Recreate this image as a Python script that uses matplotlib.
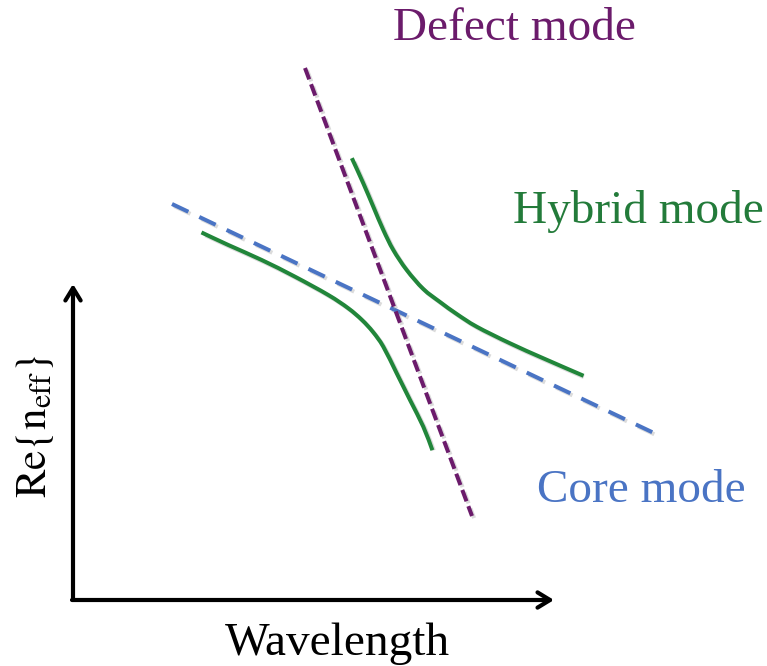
import matplotlib
matplotlib.use("Agg")
import matplotlib.pyplot as plt
import matplotlib.patheffects as pe
import matplotlib.transforms as mtrans
from matplotlib.path import Path
from matplotlib.patches import PathPatch
import numpy as np

plt.rcParams['font.family'] = ['Liberation Serif', 'DejaVu Serif']
plt.rcParams['mathtext.fontset'] = 'stix'

# Schematic curves (figure pixel coordinates, y downward)
defect_x = [305, 472]
defect_y = [68, 516]
core_x = [172, 656]
core_y = [204, 434]
hyb_up_x = [352.7, 363.3, 373.3, 383.3, 393.3, 406.7, 423.3, 440, 456.7, 476.7, 510, 543.3, 581.7]
hyb_up_y = [160, 183.3, 206.7, 230, 250, 270, 289, 302, 314, 326.7, 343.3, 358.3, 375]
hyb_lo_x = [203.3, 228.3, 261.7, 295, 328.3, 348.3, 362, 373, 383.3, 396.7, 410, 423.3, 431.7]
hyb_lo_y = [233.3, 245, 260, 276.7, 295, 308.3, 320, 332, 346.7, 373.3, 400, 426.7, 448.3]

labels = {"defect": "Defect mode", "hybrid": "Hybrid mode", "core": "Core mode",
          "x": "Wavelength", "y": r"$\mathrm{Re}\{\mathrm{n}_{\mathrm{eff}}\}$"}

purple = "#6b1b6b"
blue = "#4a74c4"
green = "#21863a"
green_txt = "#237b3a"


def smooth_path(xs, ys):
    """Catmull-Rom through the given points, drawn as cubic Bezier segments."""
    p = np.column_stack([xs, ys]).astype(float)
    verts = [p[0]]
    codes = [Path.MOVETO]
    n = len(p)
    for i in range(n - 1):
        p0 = p[i - 1] if i > 0 else p[i]
        p1 = p[i]
        p2 = p[i + 1]
        p3 = p[i + 2] if i + 2 < n else p[i + 1]
        c1 = p1 + (p2 - p0) / 6.0
        c2 = p2 - (p3 - p1) / 6.0
        verts += [c1, c2, p2]
        codes += [Path.CURVE4] * 3
    return Path(verts, codes)


fig = plt.figure(figsize=(7.67, 6.66), dpi=100)
ax = fig.add_axes([0, 0, 1, 1])
ax.set_xlim(0, 767)
ax.set_ylim(666, 0)
ax.axis("off")

shadow = [pe.SimpleLineShadow(offset=(1.5, -1.5), shadow_color="0.6", alpha=0.35), pe.Normal()]

ax.plot(core_x, core_y, color=blue, lw=2.9, dashes=(4.5, 3.0), solid_capstyle="butt",
        path_effects=shadow, zorder=3)
ax.plot(defect_x, defect_y, color=purple, lw=2.9, dashes=(3.0, 1.3), path_effects=shadow, zorder=4)

shift = mtrans.ScaledTranslation(1.5 / 72, -1.5 / 72, fig.dpi_scale_trans)
for xs, ys in [(hyb_up_x, hyb_up_y), (hyb_lo_x, hyb_lo_y)]:
    pth = smooth_path(xs, ys)
    sh = PathPatch(pth, facecolor="none", edgecolor="0.6", lw=2.9, alpha=0.35, zorder=1.5)
    sh.set_transform(ax.transData + shift)
    ax.add_patch(sh)
    ax.add_patch(PathPatch(pth, facecolor="none", edgecolor=green, lw=2.9, zorder=2,
                           capstyle="projecting"))

# axes arrows
arrow_kw = dict(arrowstyle="->,head_length=0.9,head_width=0.55", color="black", lw=3.0,
                shrinkA=0, shrinkB=0)
ax.annotate("", xy=(73, 284), xytext=(73, 600), arrowprops=arrow_kw)
ax.annotate("", xy=(554, 600), xytext=(72, 600), arrowprops=arrow_kw)

fs = 34
ax.text(514, 40, labels["defect"], color=purple, fontsize=fs, ha="center", va="baseline")
ax.text(638, 223, labels["hybrid"], color=green_txt, fontsize=fs, ha="center", va="baseline")
ax.text(641, 502, labels["core"], color=blue, fontsize=fs, ha="center", va="baseline")
ax.text(337, 655, labels["x"], color="black", fontsize=fs, ha="center", va="baseline")
ax.text(35, 426, labels["y"], color="black", fontsize=31, ha="center", va="center", rotation=90)

fig.savefig("out.png", dpi=100)
